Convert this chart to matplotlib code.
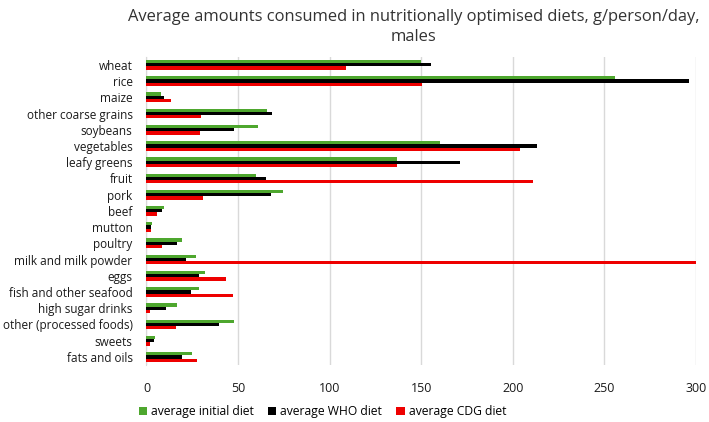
import matplotlib
matplotlib.use("Agg")
import matplotlib.pyplot as plt
import numpy as np

categories = ["wheat", "rice", "maize", "other coarse grains", "soybeans", "vegetables",
              "leafy greens", "fruit", "pork", "beef", "mutton", "poultry",
              "milk and milk powder", "eggs", "fish and other seafood", "high sugar drinks",
              "other (processed foods)", "sweets", "fats and oils"]
initial = [150, 256, 7.7, 65.6, 60.9, 160.4, 136.9, 59.8, 74.7, 9.6, 3.2, 19.2, 27, 32.1, 28.5, 16.6, 47.6, 4.5, 25]
who = [155.3, 296, 9.6, 68.5, 47.8, 213.3, 171.1, 65.4, 68, 8.6, 2.5, 16.5, 21.7, 28.5, 24.3, 10.6, 39.6, 4.1, 19.4]
cdg = [108.9, 150.2, 13.4, 29.7, 29, 203.9, 136.8, 210.8, 30.8, 5.7, 2.5, 8.6, 320, 43.4, 47.2, 1.7, 16.3, 1.7, 27.4]
series_names = ["average initial diet", "average WHO diet", "average CDG diet"]
colors = ["#4ea72e", "#000000", "#ee0000"]
xticks = [0, 50, 100, 150, 200, 250, 300]

plt.rcParams['font.family'] = ['Open Sans', 'DejaVu Sans']
fig = plt.figure(figsize=(7.09, 4.22), dpi=100)
ax = fig.add_axes([0.2066, 0.135, 0.775, 0.7306])

y = np.arange(len(categories))
h = 0.2
for i, (vals, name, c) in enumerate(zip([initial, who, cdg], series_names, colors)):
    ax.barh(y + (i - 1) * h, vals, height=h, color=c, label=name, zorder=3)

ax.set_xlim(0, 300)
ax.set_ylim(len(categories) - 0.5, -0.5)
ax.set_yticks(y)
ax.set_yticklabels(categories, fontsize=8.5, color="#1a1a1a")
ax.set_xticks(xticks)
ax.set_xticklabels([str(t) for t in xticks], fontsize=9, color="#1a1a1a")
ax.tick_params(axis='both', length=0)
ax.tick_params(axis='x', pad=12)
ax.tick_params(axis='y', pad=10)
ax.grid(axis='x', color="#d9d9d9", linewidth=1, zorder=0)
for s in ["top", "right", "bottom"]:
    ax.spines[s].set_visible(False)
ax.spines["left"].set_color("#d9d9d9")

fig.text(0.583, 0.978, "Average amounts consumed in nutritionally optimised diets, g/person/day,\nmales",
         ha="center", va="top", fontsize=11.9, color="#333333", linespacing=1.3)

ax.legend(loc="upper center", bbox_to_anchor=(0.32, -0.095), ncol=3, frameon=False,
          fontsize=8.7, handlelength=0.7, handleheight=0.7, handletextpad=0.3, columnspacing=1.2)

fig.savefig("out.png", dpi=100)
